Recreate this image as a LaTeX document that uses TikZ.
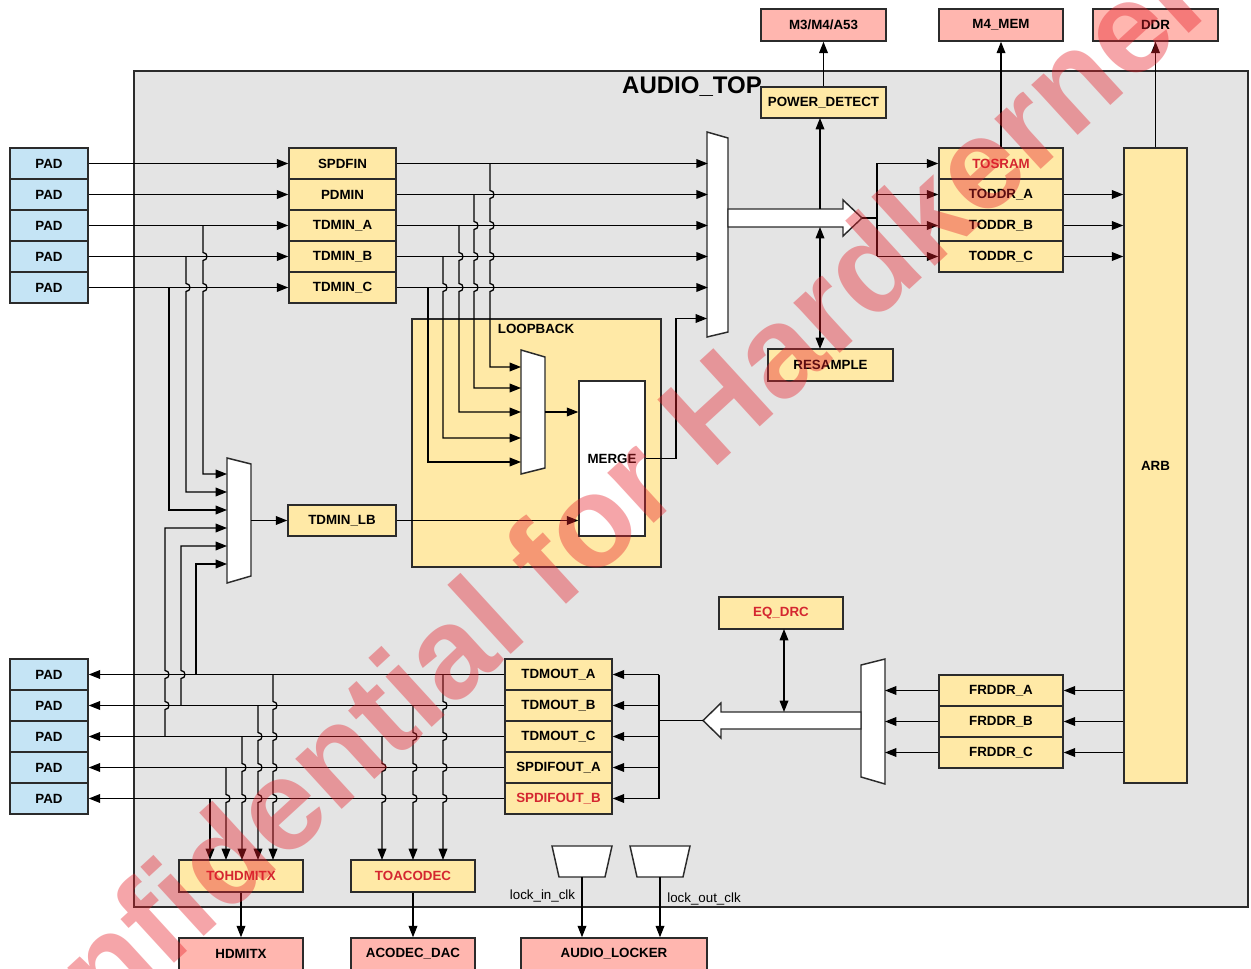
\documentclass[tikz,border=0pt]{standalone}
\usepackage{fontspec}
\setmainfont{Liberation Sans}
\usetikzlibrary{arrows.meta}
\definecolor{padblue}{HTML}{C5E4F5}
\definecolor{blkyel}{HTML}{FFE9A6}
\definecolor{extpink}{HTML}{FFB6AF}
\definecolor{topgray}{HTML}{E4E4E4}
\definecolor{lblred}{HTML}{D42630}
\definecolor{edgec}{HTML}{2B2B2B}
\definecolor{wmred}{HTML}{E8202A}
\tikzset{
  sz/.style 2 args={minimum width=#1*0.75pt, minimum height=#2*0.75pt},
  blk/.style={draw=edgec, line width=1.1pt, fill=blkyel, inner sep=0pt,
     font=\bfseries\fontsize{10}{12}\selectfont},
  padbox/.style={blk, fill=padblue},
  extbox/.style={blk, fill=extpink},
  redlabel/.style={text=lblred},
  wire/.style={draw=black, line width=0.95pt},
  arr/.style={wire, -{Triangle[length=8.5pt,width=6.5pt]}},
  rarr/.style={wire, {Triangle[length=8.5pt,width=6.5pt]}-},
  darr/.style={wire, {Triangle[length=8.5pt,width=6.5pt]}-{Triangle[length=8.5pt,width=6.5pt]}},
  shapebox/.style={draw=edgec, line width=1.1pt, fill=white},
  plain/.style={font=\fontsize{10}{12}\selectfont},
}
\begin{document}
\begin{tikzpicture}[x=0.75pt,y=-0.75pt]
\useasboundingbox (0,0) rectangle (1251,969);
\clip (0,0) rectangle (1251,969);
\fill[white] (0,0) rectangle (1251,969);

% AUDIO_TOP frame
\node[draw=edgec, line width=1.1pt, fill=topgray, sz={1114}{836}, inner sep=0pt] (top) at (691,489) {};
\node[font=\bfseries\fontsize{18}{20}\selectfont] (title) at (692,87) {AUDIO\_TOP};

% external blocks
\node[extbox, sz={125}{32}] (m3) at (823.5,25) {M3/M4/A53};
\node[extbox, sz={124}{32}] (m4) at (1001,25) {M4\_MEM};
\node[extbox, sz={125}{32}] (ddr) at (1155.5,25) {DDR};
\node[extbox, sz={124}{32}] (hdmi) at (241,954) {HDMITX};
\node[extbox, sz={124}{32}] (acodec) at (413,954) {ACODEC\_DAC};
\node[extbox, sz={186}{32}] (locker) at (614,954) {AUDIO\_LOCKER};

% input pads and blocks
\foreach \i/\y in {1/163.5,2/194.5,3/225.5,4/256.5,5/287.5}
  \node[padbox, sz={78}{31}] (pi\i) at (49,\y) {PAD};
\node[blk, sz={107}{31}] (in1) at (342.5,163.5) {SPDFIN};
\node[blk, sz={107}{31}] (in2) at (342.5,194.5) {PDMIN};
\node[blk, sz={107}{31}] (in3) at (342.5,225.5) {TDMIN\_A};
\node[blk, sz={107}{31}] (in4) at (342.5,256.5) {TDMIN\_B};
\node[blk, sz={107}{31}] (in5) at (342.5,287.5) {TDMIN\_C};

% output pads and blocks
\foreach \i/\y in {1/674.5,2/705.5,3/736.5,4/767.5,5/798.5}
  \node[padbox, sz={78}{31}] (po\i) at (49,\y) {PAD};
\node[blk, sz={107}{31}] (out1) at (558.5,674.5) {TDMOUT\_A};
\node[blk, sz={107}{31}] (out2) at (558.5,705.5) {TDMOUT\_B};
\node[blk, sz={107}{31}] (out3) at (558.5,736.5) {TDMOUT\_C};
\node[blk, sz={107}{31}] (out4) at (558.5,767.5) {SPDIFOUT\_A};
\node[blk, redlabel, sz={107}{31}] (out5) at (558.5,798.5) {SPDIFOUT\_B};

% TO blocks, FR blocks, ARB
\node[blk, redlabel, sz={124}{31}] (to1) at (1001,163.5) {TOSRAM};
\node[blk, sz={124}{31}] (to2) at (1001,194.5) {TODDR\_A};
\node[blk, sz={124}{31}] (to3) at (1001,225.5) {TODDR\_B};
\node[blk, sz={124}{31}] (to4) at (1001,256.5) {TODDR\_C};
\node[blk, sz={124}{31}] (fr1) at (1001,690.5) {FRDDR\_A};
\node[blk, sz={124}{31}] (fr2) at (1001,721.5) {FRDDR\_B};
\node[blk, sz={124}{31}] (fr3) at (1001,752.5) {FRDDR\_C};
\node[blk, sz={63}{635}] (arb) at (1155.5,465.5) {ARB};

% misc blocks
\node[blk, sz={125}{31}] (pd) at (823.5,102.5) {POWER\_DETECT};
\node[blk, sz={125}{32}] (rs) at (830.5,365) {RESAMPLE};
\node[blk, redlabel, sz={124}{32}] (eq) at (781,613) {EQ\_DRC};
\node[blk, redlabel, sz={124}{32}] (toh) at (241,876) {TOHDMITX};
\node[blk, redlabel, sz={124}{32}] (toa) at (413,876) {TOACODEC};

% loopback
\node[blk, sz={249}{248}] (lb) at (536.5,443) {};
\node[font=\bfseries\fontsize{10}{12}\selectfont] (lbt) at (536,329) {LOOPBACK};
\node[blk, fill=white, sz={66}{155}] (merge) at (612,458.5) {MERGE};
\node[blk, sz={108}{31}] (tdlb) at (342,520.5) {TDMIN\_LB};

% muxes
\draw[shapebox] (707,132) -- (728,138) -- (728,332) -- (707,337) -- cycle;
\draw[shapebox] (521,350) -- (545,357) -- (545,468) -- (521,474) -- cycle;
\draw[shapebox] (227,458) -- (251,464) -- (251,576) -- (227,583) -- cycle;
\draw[shapebox] (861,665) -- (885,659) -- (885,784) -- (861,777) -- cycle;

% big arrows
\draw[shapebox] (728,209) -- (843,209) -- (843,200) -- (862,218) -- (843,236) -- (843,227) -- (728,227) -- cycle;
\draw[shapebox] (861,712) -- (721,712) -- (721,703) -- (703,720.5) -- (721,738) -- (721,729) -- (861,729) -- cycle;

% clock shapes
\draw[shapebox] (552,846) -- (612,846) -- (605,877) -- (559,877) -- cycle;
\draw[shapebox] (630,846) -- (690,846) -- (683,877) -- (637,877) -- cycle;
\coordinate (ck1) at (582,877);
\coordinate (ck2) at (660,877);
\draw[arr] (ck1) -- (ck1 |- locker.north);
\draw[arr] (ck2) -- (ck2 |- locker.north);
\node[plain] (lin) at (542.5,896) {lock\_in\_clk};
\node[plain] (lout) at (704,899) {lock\_out\_clk};

% input connections
\foreach \i in {1,...,5} {
  \draw[arr] (pi\i.east) -- (in\i.west);
  \draw[arr] (in\i.east) -- ++(311*0.75pt,0);
}
\draw[arr] (490,163.5) \foreach \h in {194.5,225.5,256.5,287.5}{ -- (490,\h-4) .. controls +(5.3,0) and +(5.3,0) .. (490,\h+4)} -- (490,367) -- (521,367);
\draw[arr] (474,194.5) \foreach \h in {225.5,256.5,287.5}{ -- (474,\h-4) .. controls +(5.3,0) and +(5.3,0) .. (474,\h+4)} -- (474,388) -- (521,388);
\draw[arr] (459,225.5) \foreach \h in {256.5,287.5}{ -- (459,\h-4) .. controls +(5.3,0) and +(5.3,0) .. (459,\h+4)} -- (459,412) -- (521,412);
\draw[arr] (443,256.5) \foreach \h in {287.5}{ -- (443,\h-4) .. controls +(5.3,0) and +(5.3,0) .. (443,\h+4)} -- (443,438) -- (521,438);
\draw[arr] (428,287.5) -- (428,462) -- (521,462);

\draw[arr] (545,412) -- (merge.west |- 545,412);
\draw[arr] (merge.east) -- (676,458.5) -- (676,318.5) -- (707,318.5);

% mux2
\draw[arr] (203,225.5) \foreach \h in {256.5,287.5}{ -- (203,\h-4) .. controls +(5.3,0) and +(5.3,0) .. (203,\h+4)} -- (203,474) -- (227,474);
\draw[arr] (186,256.5) \foreach \h in {287.5}{ -- (186,\h-4) .. controls +(5.3,0) and +(5.3,0) .. (186,\h+4)} -- (186,492) -- (227,492);
\draw[arr] (169,287.5) -- (169,510) -- (227,510);
\draw[rarr] (227,528) -- (165,528) \foreach \h in {674.5,705.5}{ -- (165,\h-4) .. controls +(5.3,0) and +(5.3,0) .. (165,\h+4)} -- (165,736.5);
\draw[rarr] (227,546) -- (181,546) \foreach \h in {674.5}{ -- (181,\h-4) .. controls +(5.3,0) and +(5.3,0) .. (181,\h+4)} -- (181,705.5);
\draw[rarr] (227,564) -- (196,564) -- (196,674.5);
\draw[arr] (251,520.5) -- (tdlb.west);
\draw[arr] (tdlb.east) -- (merge.west |- tdlb.east);

% output connections
\foreach \i/\y in {1/674.5,2/705.5,3/736.5,4/767.5,5/798.5} {
  \draw[arr] (out\i.west) -- (po\i.east);
  \draw[arr] (659,\y) -- (out\i.east);
}
\draw[wire] (659,674.5) -- (659,798.5);
\draw[wire] (703,720.5) -- (659,720.5);

\draw[arr] (273,674.5) \foreach \h in {705.5,736.5,767.5,798.5}{ -- (273,\h-4) .. controls +(5.3,0) and +(5.3,0) .. (273,\h+4)} -- (273,860);
\draw[arr] (258,705.5) \foreach \h in {736.5,767.5,798.5}{ -- (258,\h-4) .. controls +(5.3,0) and +(5.3,0) .. (258,\h+4)} -- (258,860);
\draw[arr] (242,736.5) \foreach \h in {767.5,798.5}{ -- (242,\h-4) .. controls +(5.3,0) and +(5.3,0) .. (242,\h+4)} -- (242,860);
\draw[arr] (226,767.5) \foreach \h in {798.5}{ -- (226,\h-4) .. controls +(5.3,0) and +(5.3,0) .. (226,\h+4)} -- (226,860);
\draw[arr] (210,798.5) -- (210,860);

\draw[arr] (443,674.5) \foreach \h in {705.5,736.5,767.5,798.5}{ -- (443,\h-4) .. controls +(5.3,0) and +(5.3,0) .. (443,\h+4)} -- (443,860);
\draw[arr] (413,705.5) \foreach \h in {736.5,767.5,798.5}{ -- (413,\h-4) .. controls +(5.3,0) and +(5.3,0) .. (413,\h+4)} -- (413,860);
\draw[arr] (382,736.5) \foreach \h in {767.5,798.5}{ -- (382,\h-4) .. controls +(5.3,0) and +(5.3,0) .. (382,\h+4)} -- (382,860);

\draw[arr] (toh.south) -- (hdmi.north);
\draw[arr] (toa.south) -- (acodec.north);

% right side
\draw[wire] (862,218) -- (877,218);
\draw[wire] (877,163.5) -- (877,256.5);
\foreach \i/\y in {1/163.5,2/194.5,3/225.5,4/256.5}
  \draw[arr] (877,\y) -- (to\i.west);
\foreach \i in {2,3,4}
  \draw[arr] (to\i.east) -- (arb.west |- to\i.east);
\foreach \i in {1,2,3} {
  \draw[arr] (arb.west |- fr\i.east) -- (fr\i.east);
  \draw[arr] (fr\i.west) -- (885,0 |- fr\i.west);
}
\draw[arr] (to1.north) -- (m4.south);
\draw[arr] (arb.north) -- (ddr.south);
\draw[arr] (pd.north) -- (m3.south);
\draw[arr] (820,209) -- (820,118);
\draw[darr] (820,227) -- (820,349);
\draw[darr] (784,629) -- (784,712);

% watermark
\node[text=wmred, opacity=0.4, rotate=42.5, anchor=base,
      font=\bfseries\fontsize{97}{97}\selectfont] (wm) at (595,578) {Confidential for Hardkernel};
\end{tikzpicture}
\end{document}
